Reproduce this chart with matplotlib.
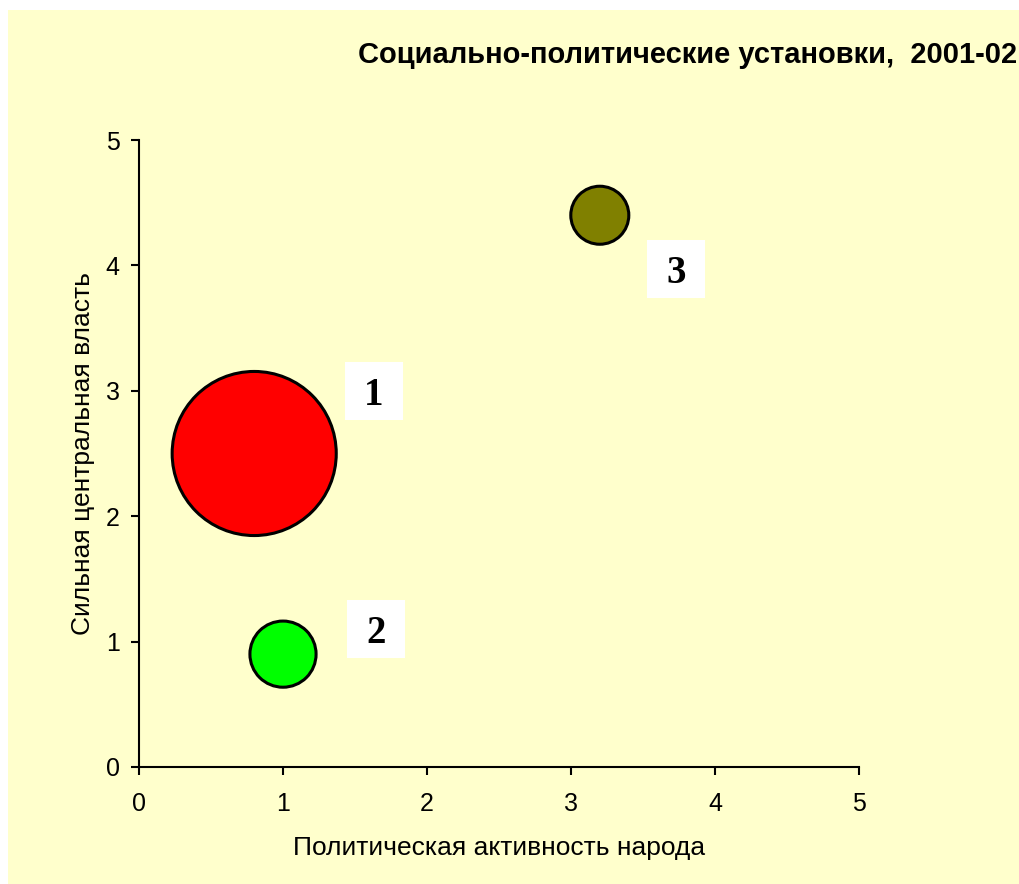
import matplotlib.pyplot as plt
from matplotlib.patches import Rectangle
from matplotlib.transforms import offset_copy

# bubble data
x_activity = [0.8, 1.0, 3.2]
y_power = [2.5, 0.9, 4.4]
bubble_size = [8.0, 1.3, 1.0]
labels = ['1', '2', '3']
colors = ['#FF0000', '#00FF00', '#808000']
# label offsets from bubble centre, in points (dragged labels)
label_offsets = [(86, 45), (67, 18), (55, -39)]

x_ticks = [0, 1, 2, 3, 4, 5]
y_ticks = [0, 1, 2, 3, 4, 5]

title = 'Социально-политические установки,  2001-02'
xlabel = 'Политическая активность народа'
ylabel = 'Сильная центральная власть'

bg = '#FFFFCC'
plt.rcParams['font.family'] = ['Liberation Sans', 'DejaVu Sans']

fig = plt.figure(figsize=(10.19, 8.84), dpi=100)
fig.patch.set_facecolor('white')
fig.add_artist(Rectangle((8 / 1019, 0), 1, 1 - 10 / 884, transform=fig.transFigure,
                         facecolor=bg, edgecolor='none', zorder=-10))

ax = fig.add_axes([139 / 1019, 1 - 767 / 884, 720 / 1019, 627 / 884])
ax.set_facecolor(bg)

scale = 1745
ax.scatter(x_activity, y_power, s=[v * scale for v in bubble_size], c=colors,
           edgecolors='black', linewidths=2.2, clip_on=False, zorder=3)

# white square data labels next to each bubble
for xi, yi, lab, (dx, dy) in zip(x_activity, y_power, labels, label_offsets):
    tr = offset_copy(ax.transData, fig=fig, x=dx, y=dy, units='points')
    ax.plot([xi], [yi], marker='s', markersize=41.8, color='white',
            markeredgewidth=0, transform=tr, clip_on=False, zorder=4)
    ax.text(xi, yi, lab, transform=tr, ha='center', va='center_baseline',
            fontsize=28, fontweight='bold', family='Liberation Serif', zorder=5)

ax.set_xlim(0, 5)
ax.set_ylim(0, 5)
ax.set_xticks(x_ticks)
ax.set_yticks(y_ticks)
ax.tick_params(direction='out', length=6, width=1.5, labelsize=18, colors='black')
ax.tick_params(axis='x', pad=12)
ax.tick_params(axis='y', pad=8)
for side in ['top', 'right']:
    ax.spines[side].set_visible(False)
for side in ['left', 'bottom']:
    ax.spines[side].set_linewidth(1.5)

ax.set_xlabel(xlabel, fontsize=19)
ax.set_ylabel(ylabel, fontsize=19)
ax.xaxis.set_label_coords(0.5, -0.11)
ax.yaxis.set_label_coords(-0.061, 0.5)

fig.text(1017 / 1019, 1 - 55 / 884, title, ha='right', va='center',
         fontsize=21, fontweight='bold')

fig.savefig('out.png', dpi=100, facecolor=fig.get_facecolor())
